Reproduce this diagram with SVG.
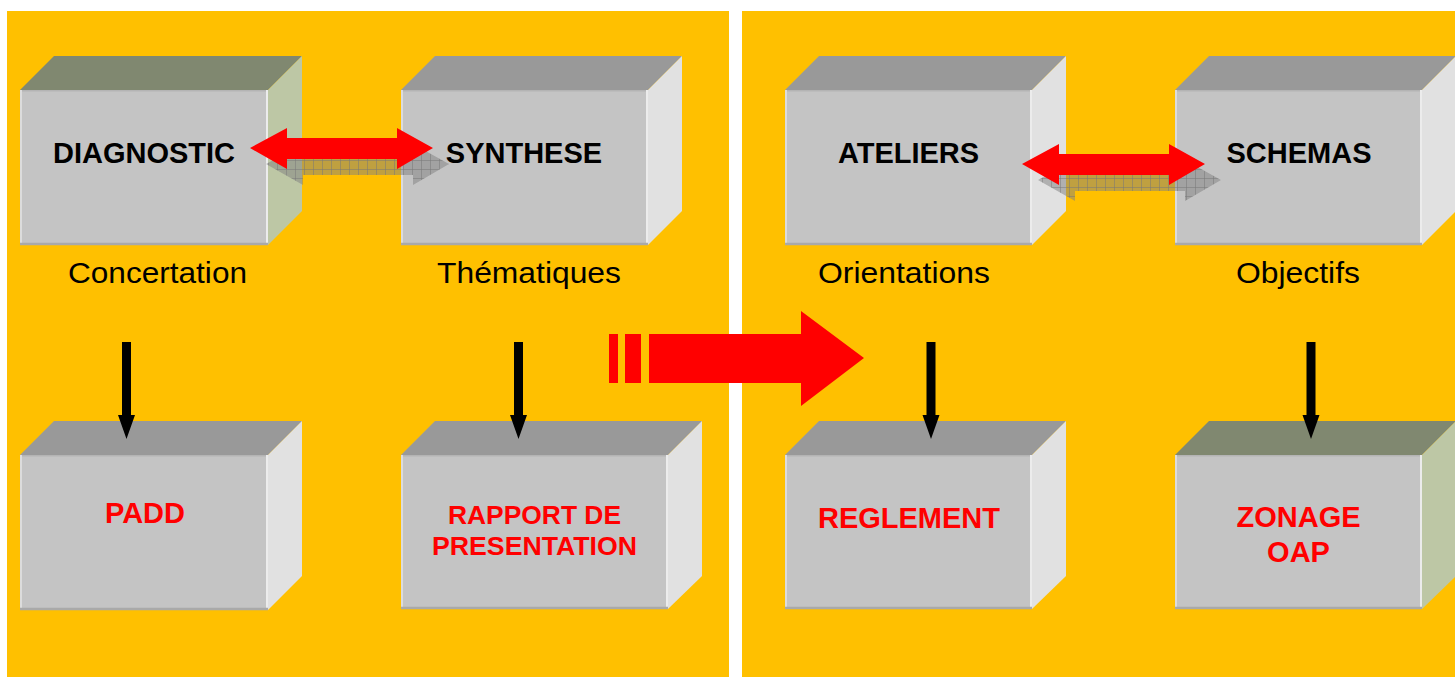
<svg xmlns="http://www.w3.org/2000/svg" width="1455" height="677" viewBox="0 0 1455 677">
<defs>
<style>
.panel{fill:#FFC000}
.front{fill:#C4C4C4}
.top{fill:#999999}
.side{fill:#E1E1E1}
.topg{fill:#808870}
.sideg{fill:#BDC7A5}
.hl{stroke:#DCDCDC;stroke-width:2}
.hr{stroke:#ECECEC;stroke-width:2}
.ht{stroke:#B4B4B4;stroke-width:1.5}
.hb{stroke:#A9A9A9;stroke-width:2.5}
.lbl{font-family:"Liberation Sans",Arial,sans-serif;font-weight:bold;font-size:29px;fill:#000;text-anchor:middle}
.red{font-family:"Liberation Sans",Arial,sans-serif;font-weight:bold;font-size:29px;fill:#FF0000;text-anchor:middle}
.sub{font-family:"Liberation Sans",Arial,sans-serif;font-size:29px;fill:#000;text-anchor:middle}
.rarrow{fill:#FF0000}
.shadow{fill:url(#grid)}
.barrow{fill:#000}
</style>
<pattern id="grid" width="9" height="9" patternUnits="userSpaceOnUse">
<rect width="9" height="9" fill="#808080" fill-opacity="0.5"/>
<path d="M0,0.5H9M0.5,0V9" stroke="#787878" stroke-opacity="0.5" stroke-width="1" fill="none"/>
</pattern>
</defs>
<rect x="0" y="0" width="1455" height="677" fill="#FFFFFF"/>
<rect class="panel" x="7" y="11" width="722" height="666"/>
<rect class="panel" x="742" y="11" width="713" height="666"/>

<g id="diagnostic">
<polygon class="topg" points="20,90 54,56 302,56 268,90"/>
<polygon class="sideg" points="268,90 302,56 302,211 268,245"/>
<rect class="front" x="20" y="90" width="248" height="155"/>
<line class="ht" x1="20" y1="90.75" x2="268" y2="90.75"/>
<line class="hl" x1="21" y1="90" x2="21" y2="245"/>
<line class="hr" x1="267" y1="90" x2="267" y2="245"/>
<line class="hb" x1="20" y1="244" x2="268" y2="244"/>
<text class="lbl" x="144" y="163">DIAGNOSTIC</text>
<text class="sub" x="157.5" y="283" textLength="179" lengthAdjust="spacingAndGlyphs">Concertation</text>
</g>

<g id="synthese">
<polygon class="top" points="401,90 435,56 682,56 648,90"/>
<polygon class="side" points="648,90 682,56 682,211 648,245"/>
<rect class="front" x="401" y="90" width="247" height="155"/>
<line class="ht" x1="401" y1="90.75" x2="648" y2="90.75"/>
<line class="hl" x1="402" y1="90" x2="402" y2="245"/>
<line class="hr" x1="647" y1="90" x2="647" y2="245"/>
<line class="hb" x1="401" y1="244" x2="648" y2="244"/>
<text class="lbl" x="524" y="163">SYNTHESE</text>
<text class="sub" x="529" y="283" textLength="184" lengthAdjust="spacingAndGlyphs">Thématiques</text>
</g>

<g id="ateliers">
<polygon class="top" points="785,90 819,56 1066,56 1032,90"/>
<polygon class="side" points="1032,90 1066,56 1066,211 1032,245"/>
<rect class="front" x="785" y="90" width="247" height="155"/>
<line class="ht" x1="785" y1="90.75" x2="1032" y2="90.75"/>
<line class="hl" x1="786" y1="90" x2="786" y2="245"/>
<line class="hr" x1="1031" y1="90" x2="1031" y2="245"/>
<line class="hb" x1="785" y1="244" x2="1032" y2="244"/>
<text class="lbl" x="908.5" y="163">ATELIERS</text>
<text class="sub" x="904" y="283" textLength="172" lengthAdjust="spacingAndGlyphs">Orientations</text>
</g>

<g id="schemas">
<polygon class="top" points="1175,90 1209,56 1456,56 1422,90"/>
<polygon class="side" points="1422,90 1456,56 1456,211 1422,245"/>
<rect class="front" x="1175" y="90" width="247" height="155"/>
<line class="ht" x1="1175" y1="90.75" x2="1422" y2="90.75"/>
<line class="hl" x1="1176" y1="90" x2="1176" y2="245"/>
<line class="hr" x1="1421" y1="90" x2="1421" y2="245"/>
<line class="hb" x1="1175" y1="244" x2="1422" y2="244"/>
<text class="lbl" x="1299" y="163">SCHEMAS</text>
<text class="sub" x="1298" y="283" textLength="124" lengthAdjust="spacingAndGlyphs">Objectifs</text>
</g>

<g id="padd">
<polygon class="top" points="20,455 54,421 302,421 268,455"/>
<polygon class="side" points="268,455 302,421 302,576 268,610"/>
<rect class="front" x="20" y="455" width="248" height="155"/>
<line class="ht" x1="20" y1="455.75" x2="268" y2="455.75"/>
<line class="hl" x1="21" y1="455" x2="21" y2="610"/>
<line class="hr" x1="267" y1="455" x2="267" y2="610"/>
<line class="hb" x1="20" y1="609" x2="268" y2="609"/>
<text class="red" x="145" y="523">PADD</text>
</g>

<g id="rapport">
<polygon class="top" points="401,455 435,421 702,421 668,455"/>
<polygon class="side" points="668,455 702,421 702,576 668,609"/>
<rect class="front" x="401" y="455" width="267" height="154"/>
<line class="ht" x1="401" y1="455.75" x2="668" y2="455.75"/>
<line class="hl" x1="402" y1="455" x2="402" y2="609"/>
<line class="hr" x1="667" y1="455" x2="667" y2="609"/>
<line class="hb" x1="401" y1="608" x2="668" y2="608"/>
<text class="red" x="534.5" y="524" style="font-size:26px" textLength="173" lengthAdjust="spacingAndGlyphs">RAPPORT DE</text>
<text class="red" x="534.5" y="555" style="font-size:26px" textLength="205" lengthAdjust="spacingAndGlyphs">PRESENTATION</text>
</g>

<g id="reglement">
<polygon class="top" points="785,455 819,421 1066,421 1032,455"/>
<polygon class="side" points="1032,455 1066,421 1066,576 1032,609"/>
<rect class="front" x="785" y="455" width="247" height="154"/>
<line class="ht" x1="785" y1="455.75" x2="1032" y2="455.75"/>
<line class="hl" x1="786" y1="455" x2="786" y2="609"/>
<line class="hr" x1="1031" y1="455" x2="1031" y2="609"/>
<line class="hb" x1="785" y1="608" x2="1032" y2="608"/>
<text class="red" x="909" y="528">REGLEMENT</text>
</g>

<g id="zonage">
<polygon class="topg" points="1175,455 1209,421 1456,421 1422,455"/>
<polygon class="sideg" points="1422,455 1456,421 1456,576 1422,609"/>
<rect class="front" x="1175" y="455" width="247" height="154"/>
<line class="ht" x1="1175" y1="455.75" x2="1422" y2="455.75"/>
<line class="hl" x1="1176" y1="455" x2="1176" y2="609"/>
<line class="hr" x1="1421" y1="455" x2="1421" y2="609"/>
<line class="hb" x1="1175" y1="608" x2="1422" y2="608"/>
<text class="red" x="1298.5" y="527">ZONAGE</text>
<text class="red" x="1298.5" y="562">OAP</text>
</g>

<g id="connectors">
<path class="shadow" transform="translate(16,16)" d="M250,148 L287,128 L287,138 L397,138 L397,128 L433,148 L397,169 L397,159 L287,159 L287,169 Z"/>
<path class="rarrow" d="M250,148 L287,128 L287,138 L397,138 L397,128 L433,148 L397,169 L397,159 L287,159 L287,169 Z"/>
<path class="shadow" transform="translate(16,16)" d="M1022,164 L1059,144 L1059,154 L1169,154 L1169,144 L1205,164 L1169,185 L1169,175 L1059,175 L1059,185 Z"/>
<path class="rarrow" d="M1022,164 L1059,144 L1059,154 L1169,154 L1169,144 L1205,164 L1169,185 L1169,175 L1059,175 L1059,185 Z"/>
<path class="barrow" d="M122,342 H131 V415 H135 L126.5,439 L118,415 H122 Z"/>
<path class="barrow" d="M514,342 H523 V415 H527 L518.5,439 L510,415 H514 Z"/>
<path class="barrow" d="M926.5,342 H935.5 V415 H939.5 L931,439 L922.5,415 H926.5 Z"/>
<path class="barrow" d="M1306.5,342 H1315.5 V415 H1319.5 L1311,439 L1302.5,415 H1306.5 Z"/>
<rect class="rarrow" x="609" y="334" width="9" height="49"/>
<rect class="rarrow" x="625" y="334" width="16" height="49"/>
<path class="rarrow" d="M649,334 L801,334 L801,311 L864,358 L801,406 L801,383 L649,383 Z"/>
</g>
</svg>
